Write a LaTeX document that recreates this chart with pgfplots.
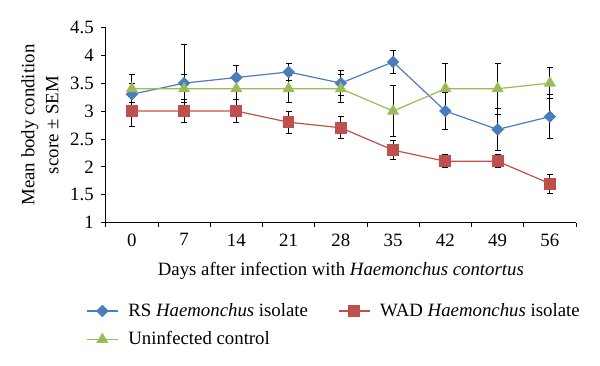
\documentclass[border=0pt]{standalone}
\usepackage{fontspec}
\setmainfont{Liberation Serif}
\usepackage{pgfplots}
\usepackage{pgfplotstable}
\pgfplotsset{compat=1.18}
\definecolor{rsblue}{RGB}{74,126,187}
\definecolor{wadred}{RGB}{192,80,77}
\definecolor{ctrlgreen}{RGB}{155,187,89}

\pgfplotstableread{
x y e
0 3.30 0.20
1 3.50 0.70
2 3.60 0.22
3 3.70 0.15
4 3.50 0.22
5 3.88 0.20
6 3.00 0.33
7 2.67 0.37
8 2.90 0.40
}\rsdata
\pgfplotstableread{
x y e
0 3.00 0.27
1 3.00 0.20
2 3.00 0.20
3 2.80 0.20
4 2.70 0.20
5 2.30 0.17
6 2.10 0.12
7 2.10 0.12
8 1.70 0.17
}\waddata
\pgfplotstableread{
x y e
0 3.40 0.25
1 3.40 0.25
2 3.40 0.20
3 3.40 0.24
4 3.40 0.25
5 3.00 0.45
6 3.40 0.45
7 3.40 0.46
8 3.50 0.28
}\ctrldata

\begin{document}
\fontsize{18.8}{22}\selectfont
\begin{tikzpicture}
\useasboundingbox (0,0) rectangle (600pt,365pt);
\begin{axis}[
  at={(105.7pt,142.3pt)}, anchor=south west,
  scale only axis, width=470.3pt, height=195.4pt,
  xmin=-0.5, xmax=8.5, ymin=1, ymax=4.5,
  axis x line*=bottom, axis y line*=left,
  axis line style={line width=0.9pt, -},
  xtick={-0.5,0.5,...,8.5},
  x tick label as interval,
  xticklabels={0,7,14,21,28,35,42,49,56},
  ytick={1,1.5,...,4.5},
  tick align=outside, major tick length=4.5pt,
  tick style={black, line width=0.9pt},
  /pgf/number format/assume math mode=true,
  yticklabel style={/pgf/number format/fixed, /pgf/number format/precision=1, xshift=-1pt},
  tick label style={font=\fontsize{18.8}{22}\selectfont},
  ylabel={Mean body condition\\score ± SEM},
  ylabel style={align=center, at={(axis description cs:-0.1397,0.5)}, anchor=center, font=\fontsize{18.8}{24}\selectfont},
  xlabel={Days after infection with \textit{Haemonchus contortus}},
  xlabel style={at={(axis description cs:0.5,-0.2677)}, anchor=base, font=\fontsize{18.8}{22}\selectfont},
  legend columns=2,
  legend cell align=left,
  legend style={draw=none, fill=none, at={(axis description cs:-0.0419,-0.40)}, anchor=north west,
    inner sep=0pt, row sep=8.5pt, font=\fontsize{18.8}{22}\selectfont,
    /tikz/every odd column/.append style={column sep=8pt},
    /tikz/every even column/.append style={column sep=28pt}},
  legend image code/.code={\draw[mark repeat=2,mark phase=2,#1] plot coordinates {(0pt,0pt) (15.5pt,0pt) (31pt,0pt)};},
  error bars/error bar style={black, line width=1pt},
  error bars/error mark options={rotate=90, mark size=3pt, black, line width=1pt},
]
\addplot[color=rsblue, line width=1.2pt, mark=square*, mark size=3.8pt,
  mark options={rotate=45, solid, fill=rsblue},
  error bars/.cd, y dir=both, y explicit]
  table[x=x, y=y, y error=e] {\rsdata};
\addlegendentry{RS \textit{Haemonchus} isolate}
\addplot[color=wadred, line width=1.2pt, mark=square*, mark size=5.3pt,
  mark options={solid, fill=wadred},
  error bars/.cd, y dir=both, y explicit]
  table[x=x, y=y, y error=e] {\waddata};
\addlegendentry{WAD \textit{Haemonchus} isolate}
\addplot[color=ctrlgreen, line width=1.2pt, mark=triangle*, mark size=5.8pt,
  mark options={solid, fill=ctrlgreen},
  error bars/.cd, y dir=both, y explicit]
  table[x=x, y=y, y error=e] {\ctrldata};
\addlegendentry{Uninfected control}
\end{axis}
\end{tikzpicture}
\end{document}
